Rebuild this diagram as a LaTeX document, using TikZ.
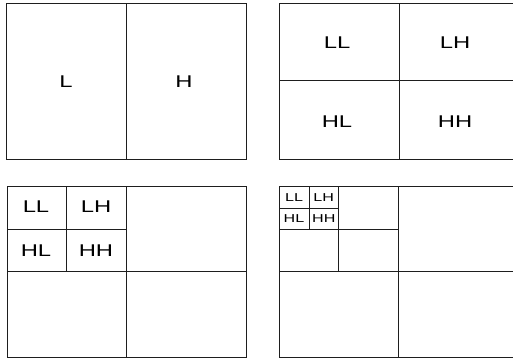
\documentclass[tikz,border=0pt]{standalone}
\usepackage{fontspec}
\setmainfont{Liberation Sans}
\newfontfamily\bandfont[FakeStretch=1.4]{Liberation Sans}
\usetikzlibrary{positioning}
\definecolor{gridline}{HTML}{1E1E1E}

\begin{document}
\begin{tikzpicture}[x=1pt, y=-1pt, line width=1pt,
  band/.style={inner sep=0pt, font=\bandfont\fontsize{17}{17}\selectfont},
  subband/.style={inner sep=0pt, font=\bandfont\fontsize{11.5}{11.5}\selectfont}]
  \useasboundingbox (0,0) rectangle (513,358);

  % 1. stupen
  \draw[gridline] (6,4) rectangle (246,159);
  \draw[gridline] (126,4) -- (126,159);
  \node[band] (oneL) at (66,81.5) {L};
  \node[band] (oneH) at (184,81.5) {H};

  % 2. stupen
  \draw[gridline] (279,4) rectangle (514,159);
  \draw[gridline] (399,4) -- (399,159);
  \draw[gridline] (279,81) -- (514,81);
  \node[band] (twoLL) at (337,42.5) {LL};
  \node[band] (twoLH) at (455,42.5) {LH};
  \node[band] (twoHL) at (337,122) {HL};
  \node[band] (twoHH) at (455,122) {HH};

  % 3. stupen
  \draw[gridline] (7,186.5) rectangle (246,357);
  \draw[gridline] (126.5,186.5) -- (126.5,357);
  \draw[gridline] (7,271) -- (246,271);
  \draw[gridline] (66.5,186.5) -- (66.5,271);
  \draw[gridline] (7,229) -- (126.5,229);
  \node[band] (threeLL) at (36,207) {LL};
  \node[band] (threeLH) at (96,207) {LH};
  \node[band] (threeHL) at (36,250.5) {HL};
  \node[band] (threeHH) at (96,250.5) {HH};

  % 4. stupen
  \draw[gridline] (279,186.5) rectangle (514,357);
  \draw[gridline] (398.5,186.5) -- (398.5,357);
  \draw[gridline] (279,271) -- (514,271);
  \draw[gridline] (338.5,186.5) -- (338.5,271);
  \draw[gridline] (279,229) -- (398.5,229);
  \draw[gridline] (309,186.5) -- (309,229);
  \draw[gridline] (279,208) -- (338.5,208);
  \node[subband] (fourLL) at (294,197.5) {LL};
  \node[subband] (fourLH) at (323.75,197.5) {LH};
  \node[subband] (fourHL) at (294,218.5) {HL};
  \node[subband] (fourHH) at (323.75,218.5) {HH};
\end{tikzpicture}
\end{document}
